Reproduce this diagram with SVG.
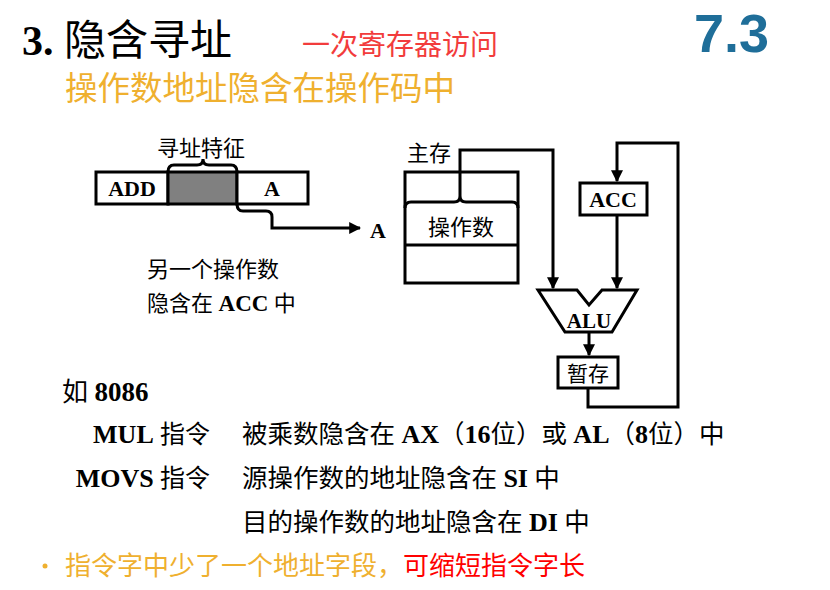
<svg xmlns="http://www.w3.org/2000/svg" width="830" height="590" viewBox="0 0 830 590">
  <style>
    .t { font-family: "Liberation Serif", "Noto Sans CJK SC", serif; fill: #000; }
    .b { font-weight: bold; }
    .box { fill: #fff; stroke: #000; stroke-width: 3; }
    .ln { fill: none; stroke: #000; stroke-width: 3; }
    .yel { fill: #efb02f; }
  </style>
  <defs>
    <marker id="arr" viewBox="0 0 10 10" refX="9" refY="5" markerWidth="4" markerHeight="4" orient="auto" markerUnits="strokeWidth">
      <path d="M0,0 L10,5 L0,10 Z" fill="#000"/>
    </marker>
  </defs>
  <rect width="830" height="590" fill="#fff"/>

  <!-- heading -->
  <g id="heading">
    <text class="t" x="22" y="55" font-size="42"><tspan class="b">3.</tspan> 隐含寻址</text>
    <text class="t" x="302" y="55" font-size="28" style="fill:#f23c3c">一次寄存器访问</text>
    <text x="694" y="52" font-size="54" font-weight="bold" font-family="Liberation Sans, Arial, sans-serif" fill="#1f6e99">7.3</text>
    <text class="t yel" x="65" y="100" font-size="32.5">操作数地址隐含在操作码中</text>
  </g>

  <!-- instruction format -->
  <g id="instruction">
    <rect class="box" x="96" y="172" width="72" height="32"/>
    <rect x="168" y="172" width="69" height="32" fill="#808080" stroke="#000" stroke-width="3"/>
    <rect class="box" x="237" y="172" width="71" height="32"/>
    <text class="t b" x="132" y="196" font-size="22" text-anchor="middle">ADD</text>
    <text class="t b" x="272" y="196" font-size="22" text-anchor="middle">A</text>
    <path class="ln" d="M168,172 Q168,165 174,165 L197,165 Q203,165 203,159 Q203,165 209,165 L231,165 Q237,165 237,172"/>
    <text class="t" x="157" y="156" font-size="22">寻址特征</text>
  </g>

  <g id="implied-note">
    <text class="t" x="147" y="277" font-size="22">另一个操作数</text>
    <text class="t" x="147" y="311" font-size="22">隐含在 <tspan class="b" font-size="23">ACC</tspan> 中</text>
  </g>

  <!-- main memory -->
  <g id="memory">
    <text class="t" x="407" y="161" font-size="22">主存</text>
    <rect class="box" x="405" y="172" width="113" height="111"/>
    <line class="ln" x1="405" y1="245" x2="518" y2="245"/>
    <path class="ln" d="M405,208 Q405,202 411,202 L454,202 Q460,202 460,196 Q460,202 466,202 L512,202 Q518,202 518,208"/>
    <text class="t" x="461" y="235" font-size="22" text-anchor="middle">操作数</text>
  </g>

  <g id="acc">
    <rect class="box" x="580" y="183" width="67" height="32"/>
    <text class="t b" x="613" y="207" font-size="22" text-anchor="middle">ACC</text>
  </g>

  <g id="alu">
    <polygon class="box" points="538,290 577,290 589,305 602,290 637,290 612,332 565,332"/>
    <text class="t b" x="589" y="328" font-size="21" text-anchor="middle">ALU</text>
  </g>

  <g id="temp">
    <rect class="box" x="558" y="357" width="60" height="31"/>
    <text class="t" x="588" y="381" font-size="21" text-anchor="middle">暂存</text>
  </g>

  <!-- connectors -->
  <g id="connectors">
    <path class="ln" d="M237,204 Q237,211 243,211 L266,211 Q272,211 272,217 L272,228 L360,228" marker-end="url(#arr)"/>
    <path class="ln" d="M460,196 L460,150 L553,150 L553,288" marker-end="url(#arr)"/>
    <path class="ln" d="M617,215 L617,288" marker-end="url(#arr)"/>
    <path class="ln" d="M589,332 L589,355" marker-end="url(#arr)"/>
    <path class="ln" d="M588,388 L588,407 L678,407 L678,143 L617,143 L617,181" marker-end="url(#arr)"/>
  </g>
  <text class="t b" x="370" y="238" font-size="22">A</text>

  <!-- 8086 examples -->
  <g id="examples">
    <text class="t" x="62" y="401" font-size="26">如 <tspan class="b" font-size="27">8086</tspan></text>
    <text class="t" x="210" y="443" font-size="25" text-anchor="end"><tspan class="b" font-size="26">MUL</tspan> 指令</text>
    <text class="t" x="242" y="443" font-size="25.5">被乘数隐含在 <tspan class="b" font-size="26">AX</tspan>（<tspan class="b" font-size="26">16</tspan>位）或 <tspan class="b" font-size="26">AL</tspan>（<tspan class="b" font-size="26">8</tspan>位）中</text>
    <text class="t" x="210" y="487" font-size="25" text-anchor="end"><tspan class="b" font-size="26">MOVS</tspan> 指令</text>
    <text class="t" x="242" y="487" font-size="25.5">源操作数的地址隐含在 <tspan class="b" font-size="26">SI</tspan> 中</text>
    <text class="t" x="242" y="531" font-size="25.5">目的操作数的地址隐含在 <tspan class="b" font-size="26">DI</tspan> 中</text>
  </g>

  <g id="summary">
    <circle cx="45" cy="566" r="2.5" fill="#efb02f"/>
    <text class="t" x="65" y="575" font-size="26"><tspan style="fill:#efb02f">指令字中少了一个地址字段，</tspan><tspan style="fill:#ff0000">可缩短指令字长</tspan></text>
  </g>
</svg>
